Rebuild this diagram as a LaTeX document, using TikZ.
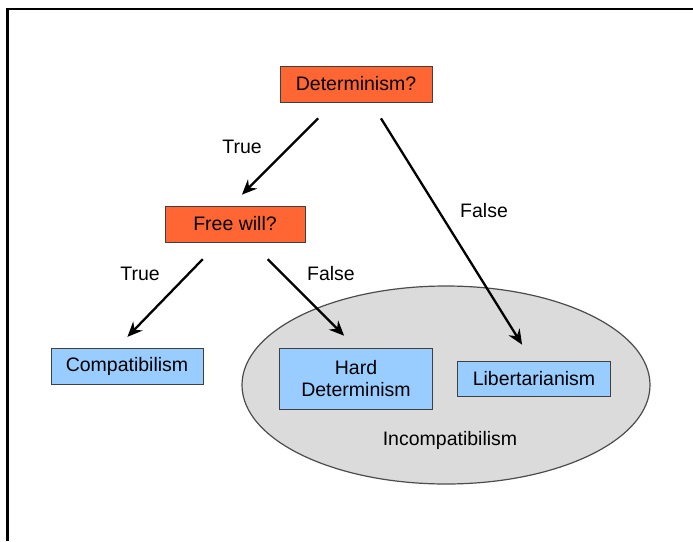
\documentclass[tikz,border=0pt]{standalone}
\usepackage{fontspec}
\setmainfont{Liberation Sans}
\usetikzlibrary{arrows.meta}
\definecolor{qorange}{HTML}{FF6633}
\definecolor{qblue}{HTML}{99CCFF}
\definecolor{qgray}{HTML}{DBDBDB}
\begin{document}
\begin{tikzpicture}[x=1pt,y=-1pt,
    font=\fontsize{19.5}{22.5}\selectfont,
    qbox/.style={draw=black!75,line width=0.8pt,fill=qorange,minimum height=36pt,inner sep=0pt},
    abox/.style={draw=black!75,line width=0.8pt,fill=qblue,minimum height=36pt,inner sep=0pt,align=center},
    arr/.style={-{Stealth[length=15pt,width=13pt,inset=5pt]},line width=2.3pt}]
        \useasboundingbox(0,0)rectangle(693,541);
        \fill[white](0,0)rectangle(693,541);
        \draw[line width=2.5pt](693,9)--(7.5,9)--(7.5,541);
        \filldraw[fill=qgray,draw=black!70,line width=1.2pt](446,385)ellipse[x radius=204,y radius=99];
        \node(incomp)at(450,440){Incompatibilism};
        \node[qbox,minimum width=152pt](det)at(356,84){Determinism?};
        \node[qbox,minimum width=140pt](fw)at(235,224){Free will?};
        \node[abox,minimum width=152pt](comp)at(127,366){Compatibilism};
        \node[abox,minimum width=153pt,minimum height=61pt](hard)at(356,378.5){Hard\\Determinism};
        \node[abox,minimum width=153pt,minimum height=35pt](lib)at(534,378.5){Libertarianism};
        \draw[arr,shorten <=22.5pt,shorten >=15.5pt]([xshift=-22pt]det.south)--([xshift=-4pt]fw.north);
        \draw[arr,shorten <=18.8pt,shorten >=18.8pt]([xshift=15pt]det.south)--([xshift=-2pt]lib.north);
        \draw[arr,shorten <=23.3pt,shorten >=15pt]([xshift=-16pt]fw.south)--([xshift=-10pt]comp.north);
        \draw[arr,shorten <=23.7pt,shorten >=16.8pt]([xshift=16pt]fw.south)--(hard.north);
        \node(t1)at(242,147){True};
        \node(f1)at(484,211){False};
        \node(t2)at(140,274){True};
        \node(f2)at(331,274){False};
\end{tikzpicture}
\end{document}
